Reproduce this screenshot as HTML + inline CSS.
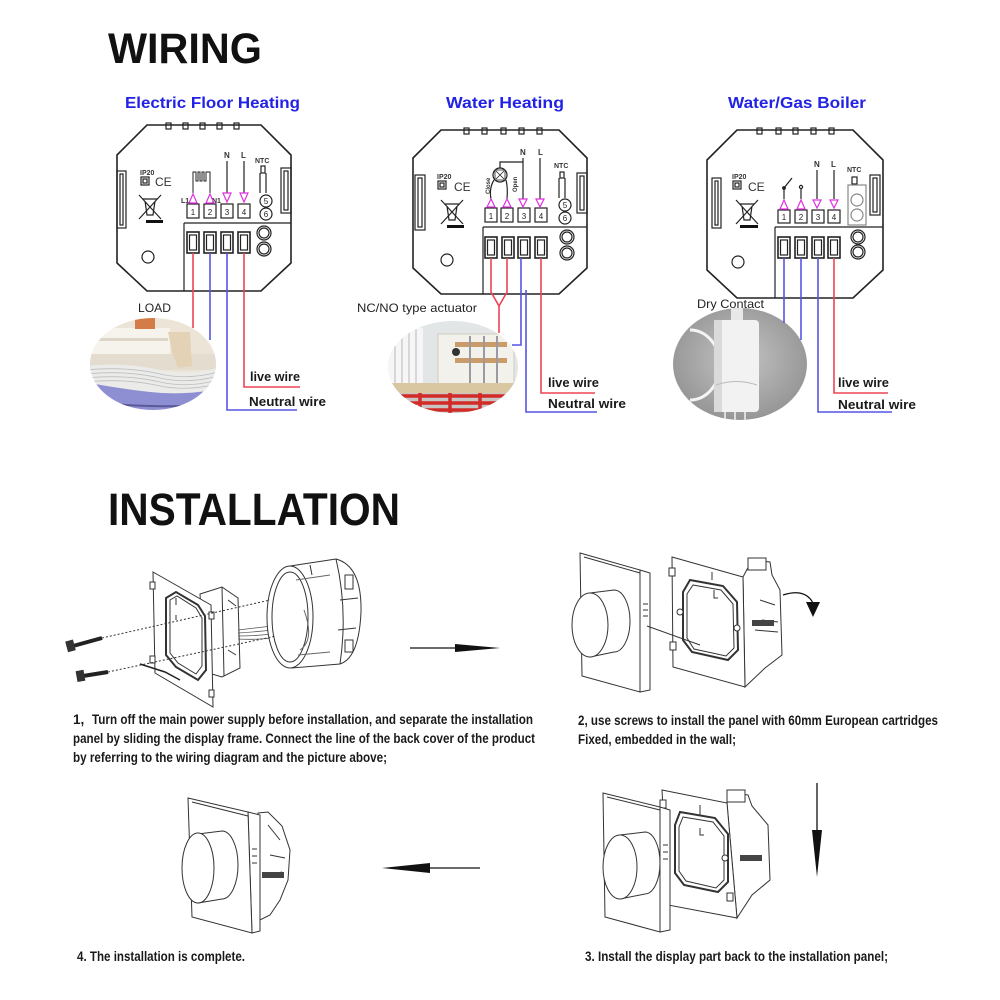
<!DOCTYPE html>
<html><head><meta charset="utf-8"><style>
html,body{margin:0;padding:0;background:#fff;}
svg{display:block;}
</style></head><body>
<svg width="1000" height="1000" viewBox="0 0 1000 1000" xmlns="http://www.w3.org/2000/svg" font-family="Liberation Sans, sans-serif">
<defs>
<clipPath id="c1"><ellipse cx="153" cy="364" rx="63" ry="46"/></clipPath>
<clipPath id="c2"><ellipse cx="453" cy="367" rx="65" ry="46"/></clipPath>
<clipPath id="c3"><ellipse cx="740" cy="364" rx="67" ry="56"/></clipPath>
<radialGradient id="g3" cx="0.5" cy="0.45" r="0.6"><stop offset="0" stop-color="#c4c4c4"/><stop offset="1" stop-color="#8e8e8e"/></radialGradient>
</defs>
<rect width="1000" height="1000" fill="#fff"/>

<!-- Titles -->
<text x="108" y="63" font-size="43" font-weight="bold" textLength="154" lengthAdjust="spacingAndGlyphs" fill="#111">WIRING</text>
<text x="108" y="525" font-size="45" font-weight="bold" textLength="292" lengthAdjust="spacingAndGlyphs" fill="#111">INSTALLATION</text>

<g font-size="16" font-weight="bold" fill="#2222e6">
<text x="125" y="108" textLength="175" lengthAdjust="spacingAndGlyphs">Electric Floor Heating</text>
<text x="446" y="108" textLength="118" lengthAdjust="spacingAndGlyphs">Water Heating</text>
<text x="728" y="108" textLength="138" lengthAdjust="spacingAndGlyphs">Water/Gas Boiler</text>
</g>

<!-- ============ PANEL 1 ============ -->
<g transform="translate(117,125)" stroke="#222" fill="none" stroke-width="1.2">
<polygon points="30,0 144,0 174,30 174,138 144,166 30,166 0,138 0,30" stroke-width="1.6"/>
<rect x="49" y="-2" width="5" height="6"/><rect x="66" y="-2" width="5" height="6"/><rect x="83" y="-2" width="5" height="6"/><rect x="100" y="-2" width="5" height="6"/><rect x="117" y="-2" width="5" height="6"/>
<rect x="0" y="46" width="9" height="57"/><rect x="3" y="49" width="3" height="51"/>
<rect x="164" y="43" width="10" height="45"/><rect x="167" y="46" width="4" height="39"/>
<text x="23" y="50" font-size="7" font-weight="bold" fill="#333" stroke="none">IP20</text>
<rect x="24" y="52" width="8" height="8"/><rect x="26" y="54" width="4" height="4"/>
<text x="38" y="61" font-size="12" fill="#333" stroke="none">CE</text>
<path d="M26,74 H40 M28,76 L30,90 H36 L38,76 M22,70 L44,94 M44,70 L22,94"/>
<rect x="29" y="95" width="17" height="3" fill="#111" stroke="none"/>
<rect x="70" y="79" width="12" height="14"/><rect x="87" y="79" width="12" height="14"/><rect x="104" y="79" width="12" height="14"/><rect x="121" y="79" width="12" height="14"/>
<g font-size="8" fill="#222" stroke="none" text-anchor="middle"><text x="76" y="90">1</text><text x="93" y="90">2</text><text x="110" y="90">3</text><text x="127" y="90">4</text></g>
<path d="M67,98 H174 M67,98 V166"/>
<rect x="70" y="107" width="12" height="21" stroke-width="1.6"/><rect x="72.5" y="110" width="7" height="15"/>
<rect x="87" y="107" width="12" height="21" stroke-width="1.6"/><rect x="89.5" y="110" width="7" height="15"/>
<rect x="104" y="107" width="12" height="21" stroke-width="1.6"/><rect x="106.5" y="110" width="7" height="15"/>
<rect x="121" y="107" width="12" height="21" stroke-width="1.6"/><rect x="123.5" y="110" width="7" height="15"/>
<circle cx="147" cy="108" r="7"/><circle cx="147" cy="108" r="5"/><circle cx="147" cy="124" r="7"/><circle cx="147" cy="124" r="5"/>
<circle cx="31" cy="132" r="6"/>
<g font-size="8" font-weight="bold" fill="#333" stroke="none"><text x="107" y="33">N</text><text x="124" y="33">L</text><text x="64" y="78" font-size="7">L1</text><text x="95" y="78" font-size="7">N1</text><text x="138" y="38" font-size="7">NTC</text></g>
<path d="M110,36 V68 M127,36 V68"/>
<path d="M76,68 V47 H79 V56 H81 V47 H83 V56 H85 V47 H87 V56 H89 V47 H93 V68" stroke-width="1"/>
<g stroke="#e030e0" stroke-width="1.2"><polygon points="106,68 114,68 110,77"/><polygon points="123,68 131,68 127,77"/><polygon points="72,78 80,78 76,69"/><polygon points="89,78 97,78 93,69"/></g>
<rect x="144" y="41" width="4" height="7"/><path d="M143,48 V68 M149,48 V68"/>
<circle cx="149" cy="76" r="6"/><circle cx="149" cy="89" r="6"/>
<g font-size="8" fill="#222" stroke="none" text-anchor="middle"><text x="149" y="79">5</text><text x="149" y="92">6</text></g>
</g>

<!-- ============ PANEL 2 ============ -->
<g transform="translate(413,130)" stroke="#222" fill="none" stroke-width="1.2">
<polygon points="28,0 146,0 174,28 174,138 146,164 28,164 0,138 0,28" stroke-width="1.6"/>
<rect x="51" y="-2" width="5" height="6"/><rect x="69" y="-2" width="5" height="6"/><rect x="88" y="-2" width="5" height="6"/><rect x="106" y="-2" width="5" height="6"/><rect x="124" y="-2" width="5" height="6"/>
<rect x="2" y="45" width="10" height="55"/><rect x="5" y="48" width="4" height="49"/>
<rect x="164" y="43" width="10" height="40"/><rect x="167" y="46" width="4" height="34"/>
<text x="24" y="49" font-size="7" font-weight="bold" fill="#333" stroke="none">IP20</text>
<rect x="25" y="51" width="8" height="8"/><rect x="27" y="53" width="4" height="4"/>
<text x="41" y="61" font-size="12" fill="#333" stroke="none">CE</text>
<path d="M32,74 H46 M34,76 L36,90 H42 L44,76 M28,70 L50,94 M50,70 L28,94"/>
<rect x="34" y="95" width="17" height="3" fill="#111" stroke="none"/>
<rect x="72" y="78" width="12" height="14"/><rect x="88" y="78" width="12" height="14"/><rect x="105" y="78" width="12" height="14"/><rect x="122" y="78" width="12" height="14"/>
<g font-size="8" fill="#222" stroke="none" text-anchor="middle"><text x="78" y="89">1</text><text x="94" y="89">2</text><text x="111" y="89">3</text><text x="128" y="89">4</text></g>
<path d="M70,97 H174 M70,97 V164"/>
<rect x="72" y="107" width="12" height="21" stroke-width="1.6"/><rect x="74.5" y="110" width="7" height="15"/>
<rect x="89" y="107" width="12" height="21" stroke-width="1.6"/><rect x="91.5" y="110" width="7" height="15"/>
<rect x="105" y="107" width="12" height="21" stroke-width="1.6"/><rect x="107.5" y="110" width="7" height="15"/>
<rect x="122" y="107" width="12" height="21" stroke-width="1.6"/><rect x="124.5" y="110" width="7" height="15"/>
<circle cx="154" cy="107" r="7"/><circle cx="154" cy="107" r="5"/><circle cx="154" cy="123" r="7"/><circle cx="154" cy="123" r="5"/>
<circle cx="34" cy="130" r="6"/>
<g font-size="8" font-weight="bold" fill="#333" stroke="none"><text x="107" y="25">N</text><text x="125" y="25">L</text><text x="141" y="38" font-size="7">NTC</text></g>
<path d="M110,28 V69 M127,28 V69"/>
<circle cx="87" cy="45" r="7"/><rect x="82" y="40" width="10" height="10" stroke-width="0.8"/><path d="M83,41 L91,49 M91,41 L83,49" stroke-width="0.8"/>
<path d="M87,38 V32 H110"/>
<path d="M81,50 Q76,58 78,69 M93,50 Q95,58 94,69"/>
<text transform="translate(77,64) rotate(-90)" font-size="6" font-weight="bold" fill="#333" stroke="none">Close</text>
<text transform="translate(104,62) rotate(-90)" font-size="6" font-weight="bold" fill="#333" stroke="none">Open</text>
<g stroke="#e030e0" stroke-width="1.2"><polygon points="106,69 114,69 110,77"/><polygon points="123,69 131,69 127,77"/><polygon points="74,77 82,77 78,69"/><polygon points="90,77 98,77 94,69"/></g>
<rect x="147" y="42" width="4" height="6"/><path d="M146,48 V68 M152,48 V68"/>
<circle cx="152" cy="75" r="6"/><circle cx="152" cy="88" r="6"/>
<g font-size="8" fill="#222" stroke="none" text-anchor="middle"><text x="152" y="78">5</text><text x="152" y="91">6</text></g>
</g>

<!-- ============ PANEL 3 ============ -->
<g transform="translate(707,130)" stroke="#222" fill="none" stroke-width="1.2">
<polygon points="30,0 146,0 176,30 176,140 146,168 30,168 0,140 0,30" stroke-width="1.6"/>
<rect x="50" y="-2" width="5" height="6"/><rect x="69" y="-2" width="5" height="6"/><rect x="86" y="-2" width="5" height="6"/><rect x="104" y="-2" width="5" height="6"/><rect x="122" y="-2" width="5" height="6"/>
<rect x="5" y="48" width="9" height="50"/><rect x="8" y="51" width="3" height="44"/>
<rect x="163" y="45" width="10" height="40"/><rect x="166" y="48" width="4" height="34"/>
<text x="25" y="49" font-size="7" font-weight="bold" fill="#333" stroke="none">IP20</text>
<rect x="26" y="51" width="8" height="8"/><rect x="28" y="53" width="4" height="4"/>
<text x="41" y="61" font-size="12" fill="#333" stroke="none">CE</text>
<path d="M33,74 H47 M35,76 L37,90 H43 L45,76 M29,70 L51,94 M51,70 L29,94"/>
<rect x="33" y="95" width="18" height="3" fill="#111" stroke="none"/>
<rect x="71" y="80" width="12" height="13"/><rect x="88" y="80" width="12" height="13"/><rect x="105" y="80" width="12" height="13"/><rect x="121" y="80" width="12" height="13"/>
<g font-size="8" fill="#222" stroke="none" text-anchor="middle"><text x="77" y="90">1</text><text x="94" y="90">2</text><text x="111" y="90">3</text><text x="127" y="90">4</text></g>
<path d="M68,97 H176 M68,97 V168"/>
<rect x="71" y="107" width="12" height="21" stroke-width="1.6"/><rect x="73.5" y="110" width="7" height="15"/>
<rect x="88" y="107" width="12" height="21" stroke-width="1.6"/><rect x="90.5" y="110" width="7" height="15"/>
<rect x="105" y="107" width="12" height="21" stroke-width="1.6"/><rect x="107.5" y="110" width="7" height="15"/>
<rect x="121" y="107" width="12" height="21" stroke-width="1.6"/><rect x="123.5" y="110" width="7" height="15"/>
<circle cx="151" cy="107" r="7"/><circle cx="151" cy="107" r="5"/><circle cx="151" cy="122" r="7"/><circle cx="151" cy="122" r="5"/>
<circle cx="31" cy="132" r="6"/>
<g font-size="8" font-weight="bold" fill="#333" stroke="none"><text x="107" y="37">N</text><text x="124" y="37">L</text><text x="140" y="42" font-size="7">NTC</text></g>
<path d="M110,40 V69 M127,40 V69"/>
<path d="M77,69 V58 L85,48 M94,69 V59"/><circle cx="77" cy="58" r="1.3" fill="#222"/><circle cx="94" cy="57" r="1.6"/>
<g stroke="#e030e0" stroke-width="1.2"><polygon points="106,70 114,70 110,78"/><polygon points="123,70 131,70 127,78"/><polygon points="73,79 81,79 77,70"/><polygon points="90,79 98,79 94,70"/></g>
<rect x="145" y="47" width="5" height="7"/>
<rect x="141" y="55" width="18" height="40" stroke="#888"/><circle cx="150" cy="70" r="6" stroke="#888"/><circle cx="150" cy="85" r="6" stroke="#888"/>
</g>

<!-- ============ PHOTOS ============ -->
<g clip-path="url(#c1)">
<rect x="85" y="315" width="140" height="110" fill="#ece5d7"/>
<rect x="85" y="328" width="85" height="26" fill="#f6f3ec"/>
<rect x="88" y="338" width="80" height="3" fill="#ddd6c8"/>
<rect x="135" y="318" width="20" height="11" fill="#d47c48"/>
<rect x="85" y="354" width="140" height="16" fill="#e4ddcf"/>
<path d="M168,332 L190,332 L192,366 L178,368 L172,352 Z" fill="#e3d2b6"/>
<path d="M85,366 Q125,362 160,370 Q190,377 225,366 L225,388 Q185,396 150,392 Q115,388 85,382 Z" fill="#ebebea"/>
<g stroke="#bdbdbd" stroke-width="0.8" fill="none"><path d="M85,370 Q125,366 160,374 Q190,381 225,370"/><path d="M85,374 Q125,370 160,378 Q190,385 225,374"/><path d="M85,378 Q125,374 160,382 Q190,389 225,378"/><path d="M85,382 Q125,378 160,386 Q190,392 225,382"/></g>
<path d="M85,382 Q115,388 150,392 Q185,396 225,388 L225,425 L85,425 Z" fill="#8e8ed2"/>
<path d="M85,400 Q140,410 225,404" stroke="#5a5a9a" stroke-width="2" fill="none"/>
</g>

<g clip-path="url(#c2)">
<rect x="385" y="318" width="140" height="100" fill="#e3e6e6"/>
<rect x="388" y="328" width="35" height="60" fill="#f6f6f6"/>
<g stroke="#b8b8b8" stroke-width="1"><line x1="395" y1="328" x2="395" y2="388"/><line x1="402" y1="328" x2="402" y2="388"/><line x1="409" y1="328" x2="409" y2="388"/><line x1="416" y1="328" x2="416" y2="388"/></g>
<rect x="438" y="334" width="76" height="50" fill="#f3f1ec" stroke="#cfcac0"/>
<rect x="455" y="342" width="52" height="5" fill="#c99c6a"/>
<rect x="455" y="358" width="52" height="5" fill="#c99c6a"/>
<g stroke="#9a9aa0" stroke-width="2"><line x1="470" y1="336" x2="470" y2="388"/><line x1="484" y1="336" x2="484" y2="388"/><line x1="497" y1="336" x2="497" y2="388"/></g>
<circle cx="456" cy="352" r="4" fill="#333"/>
<rect x="385" y="383" width="140" height="10" fill="#d9c7a2"/>
<rect x="385" y="393" width="140" height="25" fill="#c8c4c4"/>
<g stroke="#d22a26" stroke-width="3.5" fill="none"><path d="M385,396 H525"/><path d="M385,403 H525"/><path d="M385,410 H525"/><path d="M420,393 V418"/><path d="M450,393 V418"/><path d="M480,393 V418"/></g>
</g>

<g clip-path="url(#c3)">
<rect x="670" y="305" width="140" height="120" fill="url(#g3)"/>
<path d="M690,330 A30,35 0 0 1 690,400" stroke="#f4f4f4" stroke-width="3" fill="none"/>
<rect x="731" y="305" width="12" height="20" fill="#e8e8e8"/>
<rect x="714" y="320" width="45" height="92" rx="4" fill="#f2f2f2"/>
<rect x="714" y="320" width="8" height="92" fill="#dadada"/>
<path d="M716,385 Q736,378 757,385" stroke="#bbb" fill="none"/>
<g stroke="#ddd" stroke-width="2"><line x1="725" y1="412" x2="725" y2="425"/><line x1="735" y1="412" x2="735" y2="425"/><line x1="745" y1="412" x2="745" y2="425"/></g>
</g>

<!-- ============ WIRES ============ -->
<g fill="none" stroke-width="1.6">
<path d="M193,253 V328" stroke="#ee4455"/>
<path d="M210,253 V340" stroke="#5555e6"/>
<path d="M227,253 V410 H297" stroke="#5555e6"/>
<path d="M244,253 V387 H300" stroke="#ee4455"/>

<path d="M491,258 V292 L499,306 V333" stroke="#ee4455"/>
<path d="M507,258 V292 L499,306" stroke="#ee4455"/>
<path d="M521,258 V345 H512" stroke="#5555e6"/>
<path d="M526,290 V412 H597" stroke="#5555e6"/>
<path d="M541,258 V393 H595" stroke="#ee4455"/>

<path d="M784,258 V323" stroke="#5555e6"/>
<path d="M801,258 V340" stroke="#5555e6"/>
<path d="M818,258 V412 H892" stroke="#5555e6"/>
<path d="M834,258 V393 H888" stroke="#ee4455"/>
</g>

<!-- wire labels -->
<g font-size="13" font-weight="bold" fill="#1a1a1a">
<text x="250" y="381" textLength="50" lengthAdjust="spacingAndGlyphs">live wire</text>
<text x="249" y="406" textLength="77" lengthAdjust="spacingAndGlyphs">Neutral wire</text>
<text x="548" y="387" textLength="51" lengthAdjust="spacingAndGlyphs">live wire</text>
<text x="548" y="408" textLength="78" lengthAdjust="spacingAndGlyphs">Neutral wire</text>
<text x="838" y="387" textLength="51" lengthAdjust="spacingAndGlyphs">live wire</text>
<text x="838" y="409" textLength="78" lengthAdjust="spacingAndGlyphs">Neutral wire</text>
</g>
<g font-size="12" fill="#222">
<text x="138" y="312" textLength="33" lengthAdjust="spacingAndGlyphs">LOAD</text>
<text x="357" y="312" textLength="120" lengthAdjust="spacingAndGlyphs">NC/NO type actuator</text>
<text x="697" y="308" textLength="67" lengthAdjust="spacingAndGlyphs">Dry Contact</text>
</g>

<!-- ============ INSTALLATION DRAWINGS ============ -->
<!-- Step 1 -->
<g stroke="#333" fill="#fff" stroke-width="1">
<path d="M200,594 L222,587 L238,598 L240,668 L222,677 L205,672 Z"/>
<path d="M222,587 L224,676 M228,600 L236,606 M228,650 L236,655" fill="none"/>
<polygon points="153,572 211,605 213,707 155,673"/>
<path d="M166,598 L176,592 L198,605 L205,616 L206,670 L198,680 L176,667 L166,655 Z" stroke-width="2"/>
<path d="M170,600 L177,596 L196,608 L202,618 L202,666 L196,674 L178,663 L170,653 Z" fill="none"/>
<rect x="150" y="582" width="5" height="7"/><rect x="150" y="656" width="5" height="7"/>
<rect x="209" y="612" width="5" height="7"/><rect x="209" y="690" width="5" height="7"/>
<path d="M176,598 V605 M176,615 V620" fill="none"/>
<path d="M140,664 L165,672 L180,680" fill="none" stroke="#222" stroke-width="1.5"/>
<g fill="none" stroke="#555" stroke-width="0.8"><path d="M238,630 Q255,628 272,626"/><path d="M238,633 Q255,632 272,630"/><path d="M238,636 Q255,636 272,634"/><path d="M238,639 Q255,640 272,638"/></g>
<path d="M290,566 L336,559 Q362,566 361,612 Q359,658 340,664 L292,668 Z"/>
<path d="M336,559 Q348,610 340,664 M310,565 L312,575 M340,600 L358,598 M338,630 L356,628" fill="none"/>
<rect x="345" y="575" width="8" height="14" fill="none"/><rect x="345" y="640" width="8" height="12" fill="none"/>
<ellipse cx="290" cy="617" rx="23" ry="51"/>
<ellipse cx="290" cy="617" rx="18" ry="45" fill="none"/>
<path d="M296,580 L330,575 M298,655 L330,652 M304,610 Q315,640 300,650" fill="none" stroke="#666"/>
<line x1="102" y1="638" x2="270" y2="600" stroke-dasharray="2,2" fill="none"/>
<line x1="108" y1="672" x2="276" y2="636" stroke-dasharray="2,2" fill="none"/>
<line x1="73" y1="646" x2="102" y2="638" stroke="#222" stroke-width="4"/>
<rect x="67" y="641" width="7" height="10" fill="#333" transform="rotate(-15 70 646)"/>
<line x1="83" y1="676" x2="108" y2="672" stroke="#222" stroke-width="4"/>
<rect x="77" y="671" width="7" height="10" fill="#333" transform="rotate(-10 80 676)"/>
</g>

<!-- arrow right -->
<line x1="410" y1="648" x2="460" y2="648" stroke="#111" stroke-width="1.2"/>
<polygon points="455,644 500,648 455,652" fill="#111"/>

<!-- Step 2 -->
<g stroke="#333" fill="#fff" stroke-width="1">
<path d="M743,577 L752,560 L770,562 L772,575 L780,590 L782,655 L765,668 L745,687 Z"/>
<rect x="748" y="558" width="18" height="12"/>
<path d="M760,600 L775,605 M762,620 L778,622 M755,630 L778,632" fill="none"/>
<rect x="752" y="620" width="22" height="6" fill="#444" stroke="none"/>
<polygon points="672,557 743,577 745,687 673,667"/>
<path d="M690,580 L723,586 L737,602 L738,650 L728,660 L692,652 L683,640 L683,592 Z" stroke-width="2"/>
<path d="M693,585 L721,590 L733,604 L734,648 L726,656 L694,649 L687,638 L687,594 Z" fill="none"/>
<rect x="669" y="568" width="6" height="8"/><rect x="670" y="642" width="6" height="8"/>
<circle cx="680" cy="612" r="3"/><circle cx="737" cy="628" r="3"/>
<path d="M712,572 V580 M714,590 V598 H718" fill="none"/>
<polygon points="640,570 650,573 650,690 640,692"/>
<polygon points="580,553 640,570 640,692 582,676"/>
<path d="M584,557 L640,573" fill="none"/>
<path d="M643,604 H648 M643,610 H648 M643,616 H648" fill="none"/>
<line x1="647" y1="626" x2="700" y2="645" fill="none"/>
<path d="M590,593 L614,590 A16,31 0 0 1 614,652 L590,657 Z"/>
<ellipse cx="590" cy="625" rx="18" ry="32"/>
<path d="M783,595 Q805,588 813,603" fill="none" stroke="#111" stroke-width="1.3"/>
<polygon points="806,602 820,602 813,617" fill="#111" stroke="none"/>
</g>

<!-- Step 3 -->
<g stroke="#333" fill="#fff" stroke-width="1">
<path d="M727,803 L733,793 L748,795 L752,806 L768,825 L770,880 L752,895 L737,918 Z"/>
<rect x="727" y="790" width="18" height="12"/>
<rect x="740" y="855" width="22" height="6" fill="#444" stroke="none"/>
<polygon points="662,790 727,803 737,918 668,905"/>
<path d="M680,812 L715,818 L728,834 L728,882 L718,892 L684,885 L675,873 L675,825 Z" stroke-width="2"/>
<path d="M683,817 L713,822 L724,836 L724,880 L716,888 L686,881 L679,871 L679,827 Z" fill="none"/>
<rect x="660" y="800" width="6" height="8"/><rect x="727" y="893" width="6" height="8"/>
<circle cx="725" cy="858" r="3"/>
<path d="M700,805 V815 M700,828 V835 H704" fill="none"/>
<polygon points="660,807 670,810 670,930 660,932"/>
<polygon points="603,793 660,807 660,932 605,917"/>
<path d="M607,797 L660,810" fill="none"/>
<path d="M663,845 H668 M663,852 H668 M663,859 H668" fill="none"/>
<path d="M620,835 L645,832 A15,31 0 0 1 645,894 L620,899 Z"/>
<ellipse cx="620" cy="867" rx="17" ry="32"/>
</g>
<line x1="817" y1="783" x2="817" y2="835" stroke="#111" stroke-width="1.3"/>
<polygon points="812,830 822,830 817,877" fill="#111"/>

<!-- Step 4 -->
<g stroke="#333" fill="#fff" stroke-width="1">
<path d="M258,813 L268,812 L282,826 L290,850 L288,880 L280,900 L270,915 L260,920 Z"/>
<path d="M268,825 L280,840 M270,855 L285,858 M270,875 L282,872" fill="none"/>
<rect x="262" y="872" width="22" height="6" fill="#444" stroke="none"/>
<polygon points="248,812 260,815 260,931 252,933"/>
<polygon points="188,798 248,812 252,933 192,917"/>
<path d="M192,802 L248,816" fill="none"/>
<path d="M252,849 H257 M252,856 H257 M252,863 H257" fill="none"/>
<path d="M198,834 L222,831 A16,34 0 0 1 222,899 L198,903 Z"/>
<ellipse cx="198" cy="868" rx="16" ry="35"/>
</g>
<line x1="428" y1="868" x2="480" y2="868" stroke="#111" stroke-width="1.2"/>
<polygon points="382,868 430,863 430,873" fill="#111"/>

<!-- ============ INSTALLATION TEXT ============ -->
<g font-size="13.5" font-weight="bold" fill="#1a1a1a">
<text x="73" y="724">1,</text>
<text x="92" y="724" textLength="441" lengthAdjust="spacingAndGlyphs">Turn off the main power supply before installation, and separate the installation</text>
<text x="73" y="743" textLength="462" lengthAdjust="spacingAndGlyphs">panel by sliding the display frame. Connect the line of the back cover of the product</text>
<text x="73" y="762" textLength="314" lengthAdjust="spacingAndGlyphs">by referring to the wiring diagram and the picture above;</text>
<text x="578" y="725" textLength="360" lengthAdjust="spacingAndGlyphs">2, use screws to install the panel with 60mm European cartridges</text>
<text x="578" y="744" textLength="158" lengthAdjust="spacingAndGlyphs">Fixed, embedded in the wall;</text>
<text x="77" y="961" textLength="168" lengthAdjust="spacingAndGlyphs">4. The installation is complete.</text>
<text x="585" y="961" textLength="303" lengthAdjust="spacingAndGlyphs">3. Install the display part back to the installation panel;</text>
</g>
</svg>
</body></html>
